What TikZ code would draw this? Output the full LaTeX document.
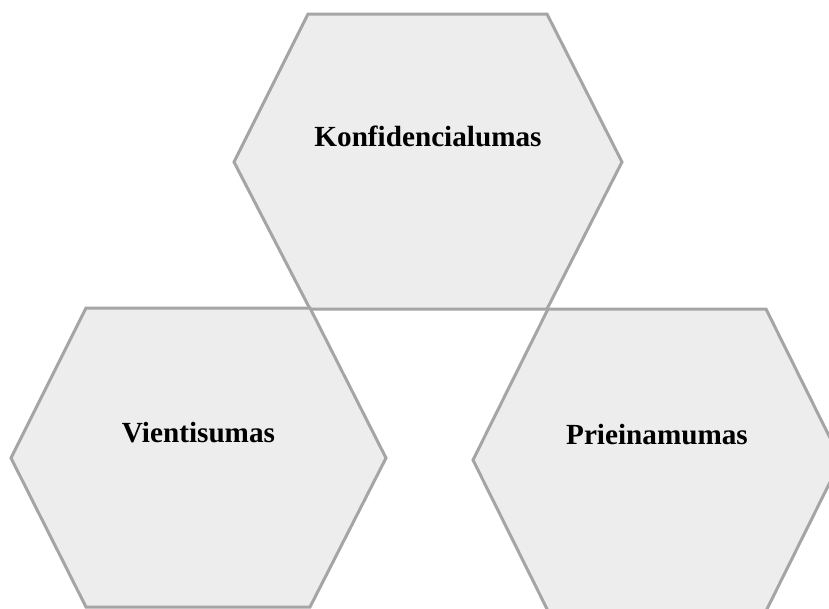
\documentclass[tikz,border=0pt]{standalone}
\usepackage{fontspec}
\setmainfont{Liberation Serif}
\definecolor{hexfill}{HTML}{EDEDED}
\definecolor{hexline}{HTML}{A5A5A5}
\tikzset{
  hexbox/.style={fill=hexfill, draw=hexline, line width=3pt, line join=miter},
  hexlabel/.style={anchor=base, inner sep=0pt, font=\fontsize{29.2}{34}\selectfont\bfseries}
}
\begin{document}
\begin{tikzpicture}[x=1pt,y=-1pt]
\useasboundingbox (0,0) rectangle (829,608);
\clip (0,0) rectangle (829,608);
% top hexagon
\draw[hexbox] (308,14) -- (547,14) -- (622,162) -- (547,309) -- (310,309) -- (234,162) -- cycle;
% left hexagon
\draw[hexbox] (86,308) -- (310,308) -- (386,458) -- (310,607) -- (86,607) -- (11,458) -- cycle;
% right hexagon
\draw[hexbox] (548,309) -- (766,309) -- (841,460) -- (766,611) -- (548,611) -- (473,460) -- cycle;
\node[hexlabel] (konf) at (428,146) {Konfidencialumas};
\node[hexlabel] (vient) at (198.5,442) {Vientisumas};
\node[hexlabel] (prie) at (657,444) {Prieinamumas};
\end{tikzpicture}
\end{document}
